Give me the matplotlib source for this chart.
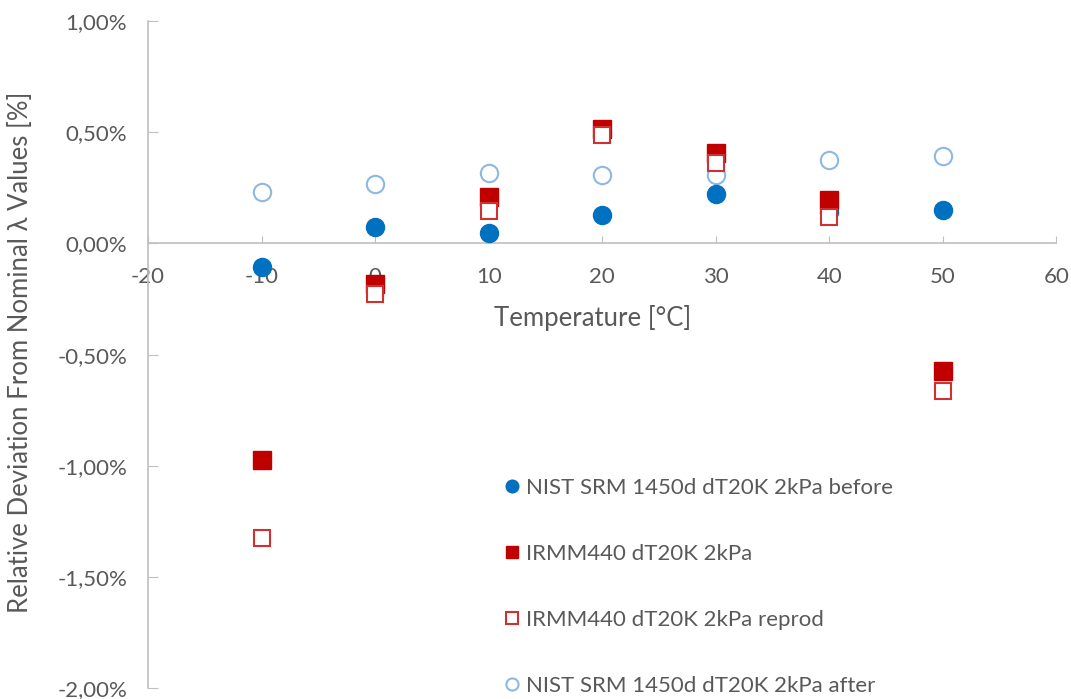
import matplotlib
matplotlib.use("Agg")
import matplotlib.pyplot as plt
from matplotlib.ticker import FuncFormatter, MultipleLocator

plt.rcParams['font.family'] = ['Lato', 'DejaVu Sans']
plt.rcParams['axes.unicode_minus'] = False

temps = [-10, 0, 10, 20, 30, 40, 50]
nist_before = [-0.105, 0.072, 0.049, 0.127, 0.224, 0.142, 0.150]
irmm = [-0.975, -0.183, 0.210, 0.517, 0.405, 0.197, -0.573]
irmm_reprod = [-1.324, -0.228, 0.147, 0.487, 0.360, 0.120, -0.663]
nist_after = [0.232, 0.267, 0.315, 0.307, 0.307, 0.377, 0.393]

labels = ["NIST SRM 1450d dT20K 2kPa before", "IRMM440 dT20K 2kPa",
          "IRMM440 dT20K 2kPa reprod", "NIST SRM 1450d dT20K 2kPa after"]

grey = '#595959'
spine_c = '#BFBFBF'

fig = plt.figure(figsize=(10.71, 6.99), dpi=100)
ax = fig.add_axes([0.1382, 0.0157, 0.848, 0.954])

ax.plot(temps, nist_after, 'o', ms=12.5, mfc='white', mec='#8DB8E4', mew=1.5,
        label=labels[3], zorder=2)
ax.plot(temps, nist_before, 'o', ms=13, mfc='#0070C0', mec='#0070C0',
        label=labels[0], zorder=3)
ax.plot(temps, irmm, 's', ms=12.5, mfc='#C00000', mec='#C00000',
        label=labels[1], zorder=3)
ax.plot(temps, irmm_reprod, 's', ms=12, mfc='white', mec='#D03030', mew=1.5,
        label=labels[2], zorder=4)

ax.set_xlim(-20, 60)
ax.set_ylim(-2.0, 1.0)
ax.xaxis.set_major_locator(MultipleLocator(10))
ax.yaxis.set_major_locator(MultipleLocator(0.5))
ax.yaxis.set_major_formatter(FuncFormatter(lambda v, p: f"{v:.2f}%".replace('.', ',')))

for s in ['top', 'right']:
    ax.spines[s].set_visible(False)
ax.spines['bottom'].set_position(('data', 0))
for s in ['left', 'bottom']:
    ax.spines[s].set_color(spine_c)
    ax.spines[s].set_linewidth(1.2)

ax.tick_params(axis='x', direction='in', length=5, color=spine_c, pad=17,
               labelsize=16, labelcolor=grey)
ax.tick_params(axis='y', direction='in', length=7, color=spine_c, pad=15,
               labelsize=16, labelcolor=grey)

ax.set_xlabel('Temperature [°C]', fontsize=18.5, color=grey)
ax.xaxis.set_label_coords(0.49, 0.574)
ax.set_ylabel('Relative Deviation From Nominal λ Values [%]', fontsize=18.5, color=grey)
ax.yaxis.set_label_coords(-0.127, 0.504)

h, l = ax.get_legend_handles_labels()
order = [1, 2, 3, 0]
leg = ax.legend([h[i] for i in order], [l[i] for i in order],
                loc='upper left', bbox_to_anchor=(0.370, 0.3455),
                frameon=False, fontsize=16, markerscale=0.7,
                handlelength=0.7, handletextpad=0.3, labelspacing=2.07,
                labelcolor=grey)

fig.savefig('out.png', dpi=100)
